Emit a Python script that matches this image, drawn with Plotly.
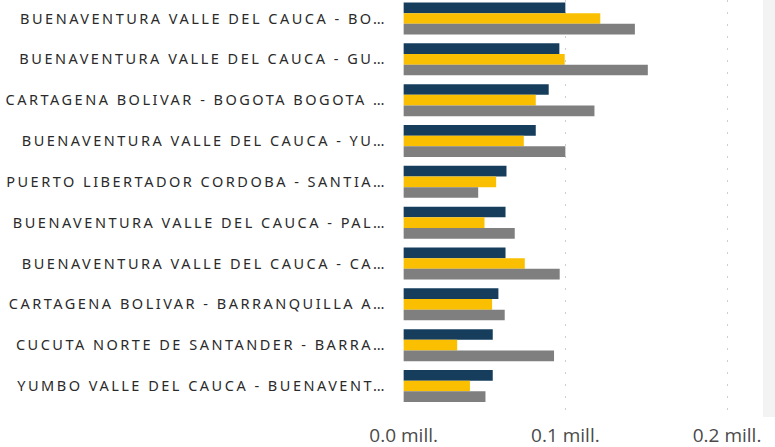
import plotly.graph_objects as go

categories = [
    "BUENAVENTURA VALLE DEL CAUCA - BO…",
    "BUENAVENTURA VALLE DEL CAUCA - GU…",
    "CARTAGENA BOLIVAR - BOGOTA BOGOTA …",
    "BUENAVENTURA VALLE DEL CAUCA - YU…",
    "PUERTO LIBERTADOR CORDOBA - SANTIA…",
    "BUENAVENTURA VALLE DEL CAUCA - PAL…",
    "BUENAVENTURA VALLE DEL CAUCA - CA…",
    "CARTAGENA BOLIVAR - BARRANQUILLA A…",
    "CUCUTA NORTE DE SANTANDER - BARRA…",
    "YUMBO VALLE DEL CAUCA - BUENAVENT…",
]
# values in millions
series_navy = [0.100, 0.0963, 0.0897, 0.0817, 0.0636, 0.0630, 0.0630, 0.0586, 0.0551, 0.0551]
series_yellow = [0.1216, 0.0996, 0.0817, 0.0743, 0.0572, 0.0500, 0.0749, 0.0547, 0.0331, 0.0410]
series_gray = [0.1430, 0.1510, 0.1180, 0.1000, 0.0461, 0.0687, 0.0965, 0.0625, 0.0930, 0.0506]
tick_vals = [0.0, 0.1, 0.2]
tick_text = ["0.0 mill.", "0.1 mill.", "0.2 mill."]

colors = ["#163E5C", "#F9BF00", "#7F7F7F"]
names = ["Serie 1", "Serie 2", "Serie 3"]

fig = go.Figure()
for name, vals, col in zip(names, [series_navy, series_yellow, series_gray], colors):
    fig.add_trace(go.Bar(
        y=categories, x=vals, orientation="h", name=name,
        marker=dict(color=col, line=dict(width=0)),
    ))

W, H = 775, 447
left, right_edge = 403, 763
top, bottom = 0, 417
xmax = (right_edge - left) / 1620.0

fig.update_layout(
    width=W, height=H,
    margin=dict(l=left, r=W - right_edge, t=top, b=H - bottom, pad=0),
    barmode="group", bargap=0.216, bargroupgap=0,
    showlegend=False,
    plot_bgcolor="rgba(0,0,0,0)", paper_bgcolor="white",
    xaxis=dict(
        range=[-0.0004, xmax], tickvals=tick_vals, ticktext=tick_text,
        showgrid=True, griddash="2px,10px", gridcolor="#CFCFCF", gridwidth=1,
        zeroline=False, showline=False, automargin=False,
        tickfont=dict(family="Open Sans", size=19, color="#4A4A4A"),
        ticks="outside", ticklen=1, tickcolor="rgba(0,0,0,0)",
    ),
    yaxis=dict(
        type="category", categoryorder="array", categoryarray=categories,
        range=[9.76, -0.453], automargin=False,
        showgrid=False, zeroline=False, showline=False,
        tickfont=dict(family="Noto Sans", size=14.5, color="#2A2A2A"),
        ticks="outside", ticklen=12, tickcolor="rgba(0,0,0,0)",
    ),
    shapes=[dict(
        type="rect", xref="paper", yref="paper",
        x0=1.0, x1=1.0 + (W - right_edge) / (right_edge - left), y0=0, y1=1,
        fillcolor="#F3F3F3", line=dict(width=0), layer="below",
    )],
)

post = """
var s=document.createElement('style');
s.textContent='html,body{margin:0;padding:0;} .ytick text{letter-spacing:2.5px;}';
document.head.appendChild(s);
"""
fig.write_html("out.html", post_script=post, config={"displayModeBar": False})
